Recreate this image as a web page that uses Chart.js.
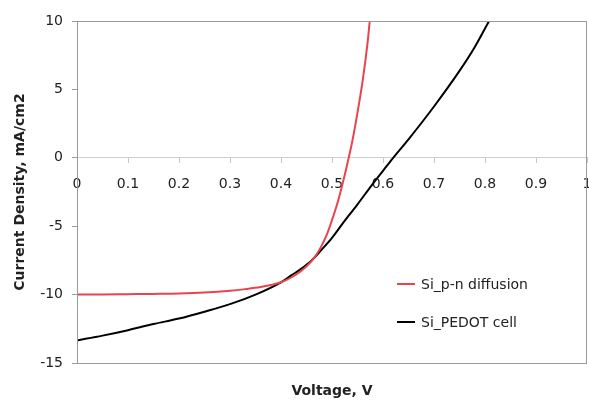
<!DOCTYPE html>
<html lang="en">
<head>
  <meta charset="UTF-8" />
  <title>Si solar cell J-V curves</title>
  <script src="https://cdn.jsdelivr.net/npm/chart.js@4"></script>
  <style>
    html, body { margin: 0; padding: 0; background: #fff; }
    #wrap { width: 589px; height: 400px; }
  </style>
</head>
<body>
  <div id="wrap"><canvas id="jvChart"></canvas></div>

  <script>
    // Si_p-n diffusion (red)
    const pnVoltage = [0, 0.05, 0.1, 0.15, 0.2, 0.25, 0.3, 0.33, 0.36, 0.38, 0.4, 0.42, 0.44, 0.46, 0.47, 0.48, 0.49, 0.5, 0.51, 0.52, 0.53, 0.54, 0.55, 0.56, 0.57, 0.574];
    const pnCurrent = [-10.0, -9.99, -9.97, -9.95, -9.92, -9.85, -9.72, -9.6, -9.45, -9.3, -9.1, -8.75, -8.25, -7.55, -7.05, -6.4, -5.6, -4.55, -3.4, -2.0, -0.45, 1.25, 3.3, 5.6, 8.5, 10.0];

    // Si_PEDOT cell (black)
    const pedotVoltage = [0, 0.05, 0.1, 0.15, 0.2, 0.25, 0.3, 0.35, 0.4, 0.42, 0.44, 0.46, 0.48, 0.5, 0.52, 0.55, 0.58, 0.6, 0.62, 0.65, 0.7, 0.75, 0.78, 0.808];
    const pedotCurrent = [-13.35, -13.0, -12.6, -12.15, -11.75, -11.25, -10.7, -10.0, -9.1, -8.6, -8.1, -7.5, -6.7, -5.85, -4.85, -3.4, -1.9, -0.95, 0, 1.35, 3.75, 6.35, 8.1, 10.0];

    const seriesNames = ['Si_p-n diffusion', 'Si_PEDOT cell'];
    const seriesColors = ['#e8444c', '#000000'];

    const FONT = 'DejaVu Sans, Verdana, sans-serif';
    const toPoints = (xs, ys) => xs.map((v, i) => ({ x: v, y: ys[i] }));
    const noSidePad = s => { s.paddingLeft = 0; s.paddingRight = 0; };

    // box around the plot area
    const frame = {
      id: 'frame',
      afterDraw(chart) {
        const { ctx, chartArea: a } = chart;
        ctx.save();
        ctx.strokeStyle = '#9a9a9a';
        ctx.lineWidth = 1;
        ctx.strokeRect(Math.round(a.left) + 0.5, Math.round(a.top) + 0.5,
          Math.round(a.right - a.left) - 1, Math.round(a.bottom - a.top));
        ctx.restore();
      }
    };

    // legend sitting inside the plot, lower right
    const insideLegend = {
      id: 'insideLegend',
      afterDraw(chart) {
        const ctx = chart.ctx;
        const rows = [284, 322];
        ctx.save();
        ctx.font = '14px ' + FONT;
        ctx.textBaseline = 'middle';
        chart.data.datasets.forEach((ds, i) => {
          const y = rows[i];
          ctx.strokeStyle = ds.borderColor;
          ctx.lineWidth = 2;
          ctx.beginPath();
          ctx.moveTo(397, y);
          ctx.lineTo(415, y);
          ctx.stroke();
          ctx.fillStyle = '#222';
          ctx.fillText(ds.label, 421, y + 1);
        });
        ctx.restore();
      }
    };

    new Chart(document.getElementById('jvChart'), {
      type: 'scatter',
      data: {
        datasets: [
          {
            label: seriesNames[0],
            data: toPoints(pnVoltage, pnCurrent),
            borderColor: seriesColors[0],
            backgroundColor: seriesColors[0],
            borderWidth: 2,
            showLine: true,
            pointRadius: 0,
            cubicInterpolationMode: 'monotone'
          },
          {
            label: seriesNames[1],
            data: toPoints(pedotVoltage, pedotCurrent),
            borderColor: seriesColors[1],
            backgroundColor: seriesColors[1],
            borderWidth: 2,
            showLine: true,
            pointRadius: 0,
            cubicInterpolationMode: 'monotone'
          }
        ]
      },
      options: {
        responsive: true,
        maintainAspectRatio: false,
        animation: false,
        layout: { padding: { top: 21, right: 2, left: 0, bottom: 0 } },
        plugins: {
          legend: { display: false },
          tooltip: { enabled: false }
        },
        scales: {
          x: {
            type: 'linear',
            position: { y: 0 },
            min: 0,
            max: 1,
            ticks: {
              stepSize: 0.1,
              padding: 13,
              maxRotation: 0,
              color: '#222',
              font: { family: FONT, size: 14 },
              callback: v => +v.toFixed(1)
            },
            grid: { drawOnChartArea: false, drawTicks: true, tickLength: 5, color: '#c8c8c8' },
            border: { display: true, color: '#d0d0d0' },
            afterFit: noSidePad
          },
          x2: {
            type: 'linear',
            position: 'bottom',
            min: 0,
            max: 1,
            ticks: { display: false },
            grid: { display: false },
            border: { display: false },
            title: {
              display: true,
              text: 'Voltage, V',
              color: '#222',
              padding: 0,
              font: { family: FONT, size: 14, weight: 'bold' }
            },
            afterFit: s => { s.height = 37; noSidePad(s); }
          },
          y: {
            min: -15,
            max: 10,
            ticks: {
              stepSize: 5,
              padding: 9,
              color: '#222',
              font: { family: FONT, size: 14 }
            },
            grid: { drawOnChartArea: false, drawTicks: true, tickLength: 5, color: '#9a9a9a' },
            border: { display: true, color: '#9a9a9a' },
            title: {
              display: true,
              text: 'Current Density, mA/cm2',
              color: '#222',
              padding: { top: 12, bottom: 0 },
              font: { family: FONT, size: 14, weight: 'bold' }
            },
            afterFit: s => { s.width = 77; }
          }
        }
      },
      plugins: [frame, insideLegend]
    });
  </script>
</body>
</html>
